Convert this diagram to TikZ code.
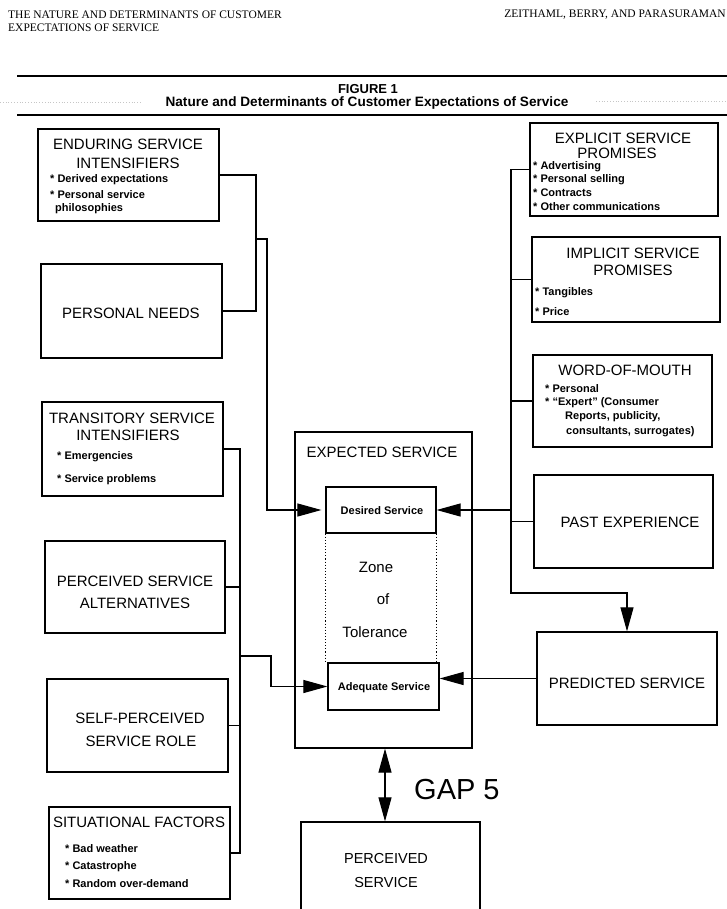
\documentclass[tikz,border=0pt]{standalone}
\usepackage{fontspec}
\setmainfont{Liberation Sans}
\newfontfamily\headserif{Liberation Serif}
\usetikzlibrary{arrows.meta,fit}
\newcommand\boxtitle{\fontsize{15}{17}\selectfont}
\newcommand\boxitem{\bfseries\fontsize{11}{13}\selectfont}
\tikzset{
  box/.style={draw, line width=1.2pt, inner sep=0pt},
  conn/.style={line width=1.1pt},
  arr/.style={-{Triangle[length=24pt,width=13pt]}},
  txt/.style={inner sep=0pt, font=\boxtitle},
  item/.style={inner sep=0pt, anchor=west, font=\boxitem},
}
\begin{document}
\begin{tikzpicture}[x=1pt,y=-1pt]
\useasboundingbox (0,0) rectangle (727,909);
% header
\node[inner sep=0pt, anchor=west, font=\headserif\fontsize{11.5}{13}\selectfont, align=left] (hl) at (8,21) {THE NATURE AND DETERMINANTS OF CUSTOMER\\EXPECTATIONS OF SERVICE};
\node[inner sep=0pt, anchor=east, font=\headserif\fontsize{11.5}{13}\selectfont] (hr) at (726,15) {ZEITHAML, BERRY, AND PARASURAMAN};
\draw[line width=1.6pt] (17,76) -- (727,76);
\draw[line width=1.6pt] (17,115) -- (727,115);
\draw[gray!45, dotted, line width=0.8pt] (0,102) -- (142,102);
\draw[gray!45, dotted, line width=0.8pt] (596,101) -- (727,101);
\node[inner sep=0pt, font=\bfseries\fontsize{13}{15}\selectfont] (fig) at (368,89) {FIGURE 1};
\node[inner sep=0pt, font=\bfseries\fontsize{13.6}{15}\selectfont] (sub) at (367,103) {Nature and Determinants of Customer Expectations of Service};

% left column boxes
\node[box, fit={(38,129)(219,221)}] (enduring) {};
\node[txt] (en1) at (128,144) {ENDURING SERVICE};
\node[txt] (en2) at (128,163) {INTENSIFIERS};
\node[item] (en3) at (50,180) {* Derived expectations};
\node[item] (en4) at (50,195) {* Personal service};
\node[item] (en5) at (55,209) {philosophies};

\node[box, fit={(41,264)(222,358)}] (pneeds) {};
\node[txt] (pn1) at (131,313) {PERSONAL NEEDS};

\node[box, fit={(42,402)(223,496)}] (trans) {};
\node[txt] (tr1) at (132,418) {TRANSITORY SERVICE};
\node[txt] (tr2) at (128,435) {INTENSIFIERS};
\node[item] (tr3) at (57,457) {* Emergencies};
\node[item] (tr4) at (57,480) {* Service problems};

\node[box, fit={(45,541)(225,633)}] (alt) {};
\node[txt] (al1) at (135,581) {PERCEIVED SERVICE};
\node[txt] (al2) at (135,603) {ALTERNATIVES};

\node[box, fit={(47,679)(228,772)}] (self) {};
\node[txt] (se1) at (140,718) {SELF-PERCEIVED};
\node[txt] (se2) at (141,741) {SERVICE ROLE};

\node[box, fit={(49,807)(230,899)}] (situ) {};
\node[txt] (si1) at (139,822) {SITUATIONAL FACTORS};
\node[item] (si2) at (65,849) {* Bad weather};
\node[item] (si3) at (65,867) {* Catastrophe};
\node[item] (si4) at (65,884) {* Random over-demand};

% right column boxes
\node[box, fit={(530,123)(718,216)}] (explicit) {};
\node[txt] (ex1) at (623,138) {EXPLICIT SERVICE};
\node[txt] (ex2) at (617,153) {PROMISES};
\node[item] (ex3) at (533,167) {* Advertising};
\node[item] (ex4) at (533,180) {* Personal selling};
\node[item] (ex5) at (533,193) {* Contracts};
\node[item] (ex6) at (533,207) {* Other communications};

\node[box, fit={(532,237)(720,322)}] (implicit) {};
\node[txt] (im1) at (633,253) {IMPLICIT SERVICE};
\node[txt] (im2) at (633,270) {PROMISES};
\node[item] (im3) at (535,293) {* Tangibles};
\node[item] (im4) at (535,312) {* Price};

\node[box, fit={(533,355)(712,447)}] (wom) {};
\node[txt] (wo1) at (625,370) {WORD-OF-MOUTH};
\node[item] (wo2) at (545,389) {* Personal};
\node[item] (wo3) at (545,403) {* “Expert” (Consumer};
\node[item] (wo4) at (565,417) {Reports, publicity,};
\node[item] (wo5) at (566,432) {consultants, surrogates)};

\node[box, fit={(534,475)(713,568)}] (past) {};
\node[txt] (pa1) at (630,522) {PAST EXPERIENCE};

\node[box, fit={(537,632)(717,725)}] (predicted) {};
\node[txt] (pr1) at (627,683) {PREDICTED SERVICE};

% centre
\node[box, fit={(295,432)(472,748)}] (expected) {};
\node[txt] (ex) at (382,452) {EXPECTED SERVICE};
\node[box, fit={(326,487)(436,533)}] (desired) {};
\node[inner sep=0pt, font=\boxitem] (de1) at (382,511) {Desired Service};
\node[box, fit={(328,663)(439,710)}] (adequate) {};
\node[inner sep=0pt, font=\boxitem] (ad1) at (384,688) {Adequate Service};
\draw[dotted, line width=1.1pt] (desired.south west) -- (desired.south west |- adequate.north);
\draw[dotted, line width=1.1pt] (desired.south east) -- (desired.south east |- adequate.north);
\node[txt] (z1) at (376,567) {Zone};
\node[txt] (z2) at (383,599) {of};
\node[txt] (z3) at (375,632) {Tolerance};

\node[box, fit={(301,822)(480,920)}] (perceived) {};
\node[inner sep=0pt, font=\fontsize{14.5}{16}\selectfont] (pe1) at (386,858) {PERCEIVED};
\node[inner sep=0pt, font=\fontsize{14.5}{16}\selectfont] (pe2) at (386,882) {SERVICE};

\node[inner sep=0pt, anchor=west, font=\fontsize{29}{32}\selectfont] (gap) at (414,790) {GAP 5};

% connectors left
\coordinate (jL1) at (256,239);
\coordinate (jL2) at (267,239);
\draw[conn] (enduring.east) -| (jL1) |- (pneeds.east);
\draw[conn, arr, shorten >=4pt] (jL1) -- (jL2) |- (desired.west);
\coordinate (jL3) at (240,656);
\coordinate (jL4) at (271,656);
\draw[conn] (trans.east) -| (jL3) |- (situ.east);
\draw[conn] (alt.east) -- (alt.east -| jL3);
\draw[conn] (self.east) -- (self.east -| jL3);
\draw[conn, arr] (jL3) -- (jL4) |- (adequate.west);

% connectors right
\coordinate (jR) at (511,593);
\draw[conn, arr] (explicit.west) -| (jR) -| (predicted.north);
\draw[conn] (implicit.west) -- (implicit.west -| jR);
\draw[conn] (wom.west) -- (wom.west -| jR);
\draw[conn] (past.west) -- (past.west -| jR);
\draw[conn, arr] (desired.east -| jR) -- (desired.east);
\draw[conn, arr] (predicted.west) -- (predicted.west -| adequate.east);

% gap 5
\coordinate (gx) at (385,0);
\draw[conn, {Triangle[length=24pt,width=13pt]}-{Triangle[length=24pt,width=13pt]}] (expected.south -| gx) -- (perceived.north -| gx);
\end{tikzpicture}
\end{document}
